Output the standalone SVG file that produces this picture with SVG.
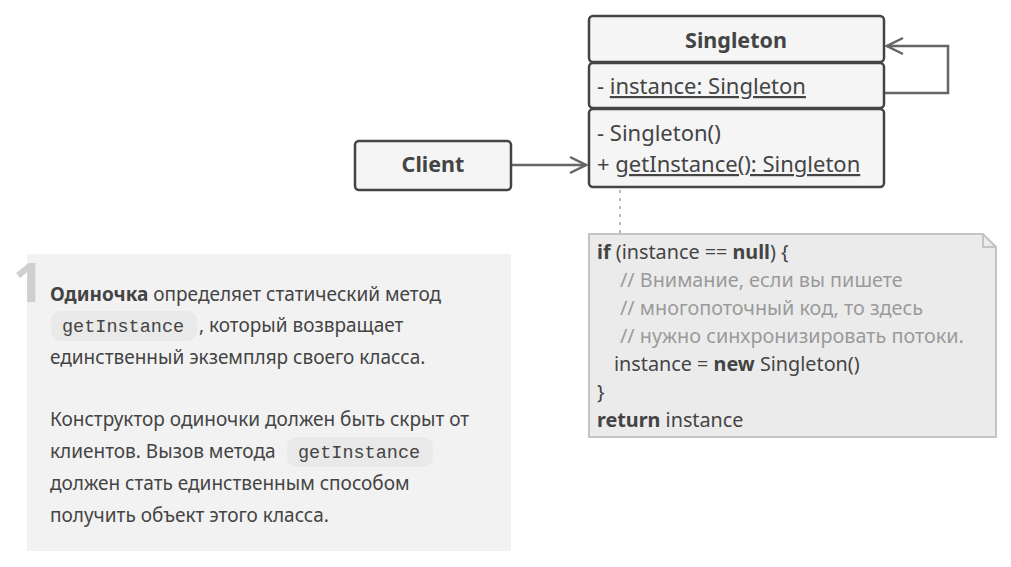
<svg xmlns="http://www.w3.org/2000/svg" width="1011" height="567" viewBox="0 0 1011 567">
<style>
.box{fill:#f5f5f5;stroke:#444;stroke-width:2.5}
.t{font-family:"Noto Sans","Open Sans",sans-serif;fill:#444}
.b{font-weight:bold}
.ln{fill:none;stroke:#666;stroke-width:2.5}
.code{font-family:"Liberation Mono","DejaVu Sans Mono",monospace;fill:#444;font-size:18.5px}
.pill{fill:#e9e9e9}
.c{font-family:"Noto Sans","Open Sans",sans-serif;font-size:19.8px;fill:#444}
.cm{fill:#9a9a9a}
</style>
<defs>
<marker id="arr" viewBox="0 0 20 20" refX="18" refY="10" markerWidth="20" markerHeight="20" markerUnits="userSpaceOnUse" orient="auto">
<path d="M2,2 L18,10 L2,18" fill="none" stroke="#666" stroke-width="2.5"/>
</marker>
</defs>
<rect x="0" y="0" width="1011" height="567" fill="#fff"/>
<g id="connectors">
<path class="ln" d="M511,165 L586,165" marker-end="url(#arr)"/>
<path class="ln" d="M884,93 L948,93 L948,46 L887,46" marker-end="url(#arr)"/>
<path d="M620,190 L620,234" stroke="#bbb" stroke-width="2" stroke-dasharray="3,5" fill="none"/>
</g>
<g id="singleton">
<rect class="box" x="589" y="16" width="295" height="46" rx="4"/>
<rect class="box" x="589" y="63" width="295" height="45" rx="4"/>
<rect class="box" x="589" y="109" width="295" height="78" rx="4"/>
<text class="t b" x="736" y="48" font-size="21.5" text-anchor="middle">Singleton</text>
<text class="t" x="597" y="94" font-size="22">- <tspan text-decoration="underline">instance: Singleton</tspan></text>
<text class="t" x="597" y="141" font-size="22">- Singleton()</text>
<text class="t" x="597" y="172" font-size="22">+ <tspan text-decoration="underline">getInstance(): Singleton</tspan></text>
</g>
<g id="client">
<rect class="box" x="355" y="141" width="156" height="49" rx="4"/>
<text class="t b" x="433" y="172" font-size="21.5" text-anchor="middle">Client</text>
</g>
<g id="note">
<path d="M589,234 L983,234 L996,247 L996,437 L589,437 Z" fill="#ebebeb" stroke="#c4c4c4" stroke-width="2"/>
<path d="M983,234 L983,247 L996,247" fill="none" stroke="#c4c4c4" stroke-width="2"/>
<text class="c" x="597" y="259"><tspan class="b">if</tspan> (instance == <tspan class="b">null</tspan>) {</text>
<text class="c cm" x="620" y="287">// Внимание, если вы пишете</text>
<text class="c cm" x="620" y="315">// многопоточный код, то здесь</text>
<text class="c cm" x="620" y="343">// нужно синхронизировать потоки.</text>
<text class="c" x="614" y="371">instance = <tspan class="b">new</tspan> Singleton()</text>
<text class="c" x="597" y="399">}</text>
<text class="c" x="597" y="427"><tspan class="b">return</tspan> instance</text>
</g>
<g id="description">
<rect x="27" y="254" width="484" height="297" fill="#f2f2f2"/>
<text x="13" y="302" font-family="Noto Sans,sans-serif" font-size="54" font-weight="bold" fill="#cfcfcf">1</text>
<rect class="pill" x="51" y="311" width="146" height="30" rx="10"/>
<rect class="pill" x="287" y="437" width="146" height="30" rx="10"/>
<g class="t" font-size="19">
<text x="50" y="301"><tspan class="b">Одиночка</tspan> определяет статический метод</text>
<text class="code" x="62" y="332">getInstance</text>
<text x="199" y="332">, который возвращает</text>
<text x="50" y="364">единственный экземпляр своего класса.</text>
<text x="50" y="426">Конструктор одиночки должен быть скрыт от</text>
<text x="50" y="458">клиентов. Вызов метода</text>
<text class="code" x="298" y="458">getInstance</text>
<text x="50" y="490">должен стать единственным способом</text>
<text x="50" y="522">получить объект этого класса.</text>
</g>
</g>
</svg>
